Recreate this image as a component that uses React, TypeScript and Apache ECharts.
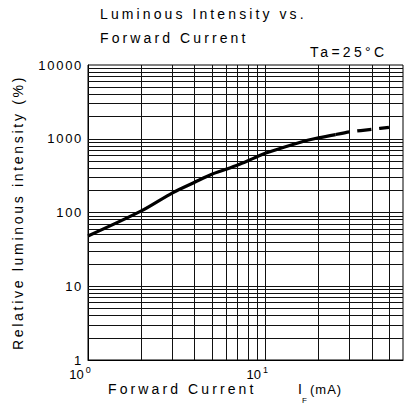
import React, { useEffect, useRef } from 'react';
import * as echarts from 'echarts';

// Forward current (mA) vs relative luminous intensity (%)
const currentSolid = [1, 2, 3, 4, 5, 6, 7, 8, 9, 10, 16, 20, 25];
const intensitySolid = [48, 105, 185, 257, 330, 385, 441, 504, 571, 635, 905, 1030, 1140];
const currentDashed = [25, 30, 40, 50];
const intensityDashed = [1140, 1240, 1340, 1430];

// grid lines
const xGridValues = [2, 3, 4, 5, 6, 7, 8, 9, 10, 20, 30, 40, 50];
const yGridValues = [
  2, 3, 4, 5, 6, 7, 8, 9, 10,
  20, 30, 40, 50, 60, 70, 80, 90, 100,
  200, 300, 400, 500, 600, 700, 800, 900, 1000,
  2000, 3000, 4000, 5000, 6000, 7000, 8000, 9000,
];
const xMin = 1;
const xMax = 60;
const yMin = 1;
const yMax = 10000;
const xTickExponent: Record<number, string> = { 1: '0', 10: '1' };

const FONT = '"Liberation Sans", Arial, sans-serif';

function applySpacing(root: HTMLElement) {
  root.querySelectorAll('text').forEach((t) => {
    const s = (t.textContent || '').trim();
    let ls = 0;
    if (s === 'Luminous Intensity vs.' || s === 'Forward Current') ls = 3.1;
    else if (s === 'Ta=25°C') ls = 3.3;
    else if (s.startsWith('Relative')) ls = 2.7;
    else if (s === '(mA)') ls = 1;
    else if (/^\d+$/.test(s) && t.getAttribute('text-anchor') === 'end') ls = 1.7;
    if (ls) t.setAttribute('letter-spacing', String(ls));
  });
}

export default function App() {
  const ref = useRef<HTMLDivElement>(null);
  useEffect(() => {
    if (!ref.current) return;
    const chart = echarts.init(ref.current, undefined, { renderer: 'svg' });
    const gridLine = { color: '#111', width: 1, type: 'solid' as const };
    const option: any = {
      animation: false,
      backgroundColor: '#fff',
      textStyle: { fontFamily: FONT },
      grid: {
        left: 88,
        right: 1,
        top: 65,
        bottom: 51,
        show: true,
        borderColor: '#000',
        borderWidth: 1,
        containLabel: false,
      },
      xAxis: {
        type: 'log',
        logBase: 10,
        min: xMin,
        max: xMax,
        axisLine: { show: true, lineStyle: { color: '#000', width: 1 } },
        axisTick: { show: false },
        splitLine: { show: false },
        axisLabel: {
          margin: 5,
          padding: [0, 16, 0, 0],
          formatter: (v: number) => {
            const r = Math.round(v);
            if (Math.abs(v - r) < 1e-6 && xTickExponent[r] !== undefined) {
              return '{b|10}{s|' + xTickExponent[r] + '}';
            }
            return '';
          },
          rich: {
            b: { fontSize: 13, fontFamily: FONT, color: '#000', padding: [5, 2, 0, 0], lineHeight: 13 },
            s: { fontSize: 9, fontFamily: FONT, color: '#000', verticalAlign: 'top', lineHeight: 10 },
          },
        },
      },
      yAxis: {
        type: 'log',
        logBase: 10,
        min: yMin,
        max: yMax,
        name: 'Relative luminous intensity (%)',
        nameLocation: 'middle',
        nameRotate: 90,
        nameGap: 63,
        nameTextStyle: { fontSize: 14, color: '#000', fontFamily: FONT },
        axisLine: { show: true, lineStyle: { color: '#000', width: 1 } },
        axisTick: { show: false },
        splitLine: { show: false },
        axisLabel: {
          margin: 5,
          fontSize: 13,
          color: '#000',
          fontFamily: FONT,
          formatter: (v: number) => String(Math.round(v)),
        },
      },
      graphic: [
        { type: 'text', x: 100, y: 13.5, silent: true,
          style: { text: 'Luminous Intensity vs.', fill: '#000', fontSize: 14, fontFamily: FONT, textAlign: 'left', verticalAlign: 'middle' } },
        { type: 'text', x: 100, y: 37.5, silent: true,
          style: { text: 'Forward Current', fill: '#000', fontSize: 14, fontFamily: FONT, textAlign: 'left', verticalAlign: 'middle' } },
        { type: 'text', x: 310, y: 52, silent: true,
          style: { text: 'Ta=25°C', fill: '#000', fontSize: 14, fontFamily: FONT, textAlign: 'left', verticalAlign: 'middle' } },
        { type: 'text', x: 108, y: 389, silent: true,
          style: { text: 'Forward Current', fill: '#000', fontSize: 14, fontFamily: FONT, textAlign: 'left', verticalAlign: 'middle' } },
        { type: 'text', x: 298, y: 389, silent: true,
          style: { text: 'I', fill: '#000', fontSize: 14, fontFamily: FONT, textAlign: 'left', verticalAlign: 'middle' } },
        { type: 'text', x: 302, y: 400, silent: true,
          style: { text: 'F', fill: '#000', fontSize: 8, fontFamily: FONT, textAlign: 'left', verticalAlign: 'middle' } },
        { type: 'text', x: 310, y: 389, silent: true,
          style: { text: '(mA)', fill: '#000', fontSize: 13, fontFamily: FONT, textAlign: 'left', verticalAlign: 'middle' } },
      ],
      series: [
        {
          name: 'grid',
          type: 'line',
          data: [],
          z: 1,
          silent: true,
          markLine: {
            silent: true,
            animation: false,
            symbol: ['none', 'none'],
            label: { show: false },
            lineStyle: gridLine,
            emphasis: { disabled: true },
            data: [
              ...xGridValues.map((v) => ({ xAxis: v })),
              ...yGridValues.map((v) => ({ yAxis: v })),
            ],
          },
        },
        {
          name: 'solid',
          type: 'line',
          z: 5,
          smooth: 0.3,
          showSymbol: false,
          lineStyle: { color: '#000', width: 3.2 },
          data: currentSolid.map((x, i) => [x, intensitySolid[i]]),
        },
        {
          name: 'dashed',
          type: 'line',
          z: 5,
          smooth: 0.2,
          showSymbol: false,
          lineStyle: { color: '#000', width: 3.2, type: [14, 8] },
          data: currentDashed.map((x, i) => [x, intensityDashed[i]]),
        },
      ],
    };
    chart.setOption(option);
    applySpacing(ref.current);
    const el = ref.current;
    chart.on('finished', () => applySpacing(el));
    return () => {
      chart.dispose();
    };
  }, []);
  return (
    <div
      ref={ref}
      style={{ position: 'fixed', left: 0, top: 0, width: 406, height: 411, background: '#fff' }}
    />
  );
}
